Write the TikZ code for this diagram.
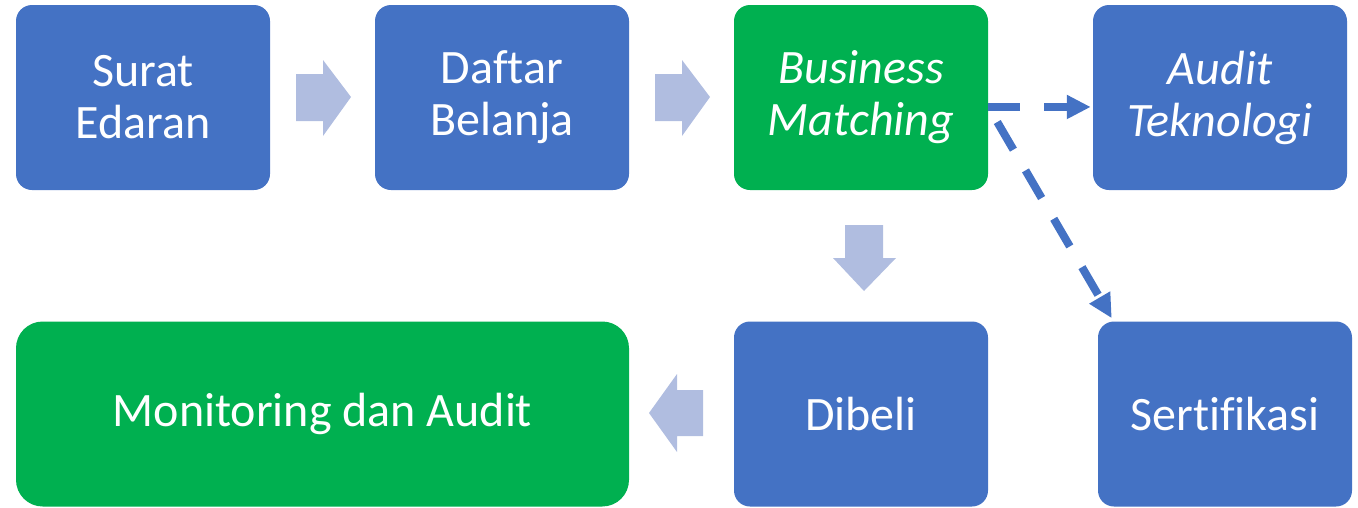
\documentclass[tikz,border=0pt]{standalone}
\usepackage{fontspec}
\setmainfont{Carlito}[Ligatures={NoCommon}]
\usetikzlibrary{arrows.meta}
\definecolor{boxblue}{HTML}{4472C4}
\definecolor{boxgreen}{HTML}{00B050}
\definecolor{flowarrow}{RGB}{176,189,224}
\begin{document}
\begin{tikzpicture}[x=0.75pt,y=-0.75pt,
  stage/.style={rectangle, rounded corners=12pt, inner sep=0pt,
    minimum width=190.5pt, minimum height=138.75pt, text=white, align=center,
    font=\fontsize{36}{39}\selectfont},
  bluebox/.style={stage, fill=boxblue},
  greenbox/.style={stage, fill=boxgreen},
  blockarrow/.style={fill=flowarrow, draw=none},
  dashlink/.style={draw=boxblue, line width=6pt, dash pattern=on 24pt off 18pt,
    -{Triangle[length=18pt,width=17pt]}}]
\useasboundingbox (0,0) rectangle (1358,507);

% top row
\node[bluebox]  (se)  at (143,97.5)  {Surat\\Edaran};
\node[bluebox]  (db)  at (502,97.5)  {Daftar\\Belanja};
\node[greenbox] (bm)  at (861,97.5)  {\itshape Business\\\itshape Matching};
\node[bluebox]  (at)  at (1220,97.5) {\itshape Audit\\\itshape Teknologi};

% bottom row
\node[greenbox, minimum width=459.75pt, rounded corners=20pt] (mon) at (322.5,414) {Monitoring dan Audit};
\node[bluebox]  (dib)  at (861,414)  {Dibeli};
\node[bluebox]  (sert) at (1225,414) {Sertifikasi};

% block arrows of the main flow
\fill[blockarrow] (296,74) -- (323,74) -- (323,60) -- (351,97) -- (323,136) -- (323,121) -- (296,121) -- cycle;
\fill[blockarrow] (655,74) -- (682,74) -- (682,60) -- (710,97) -- (682,136) -- (682,121) -- (655,121) -- cycle;
\fill[blockarrow] (845,225) -- (883,225) -- (883,258) -- (896,258) -- (864,291) -- (833,258) -- (845,258) -- cycle;
\fill[blockarrow] (703,390) -- (677,390) -- (677,374) -- (649,413) -- (677,452) -- (677,436) -- (703,436) -- cycle;

% dashed side branches
\draw[dashlink] ([yshift=-7.1pt]bm.east) -- ([shift={(-1.5pt,-7.1pt)}]at.west);
\draw[dashlink] ([shift={(6.75pt,-18.4pt)}]bm.east) -- ([shift={(10.5pt,2.25pt)}]sert.north west);
\end{tikzpicture}
\end{document}
